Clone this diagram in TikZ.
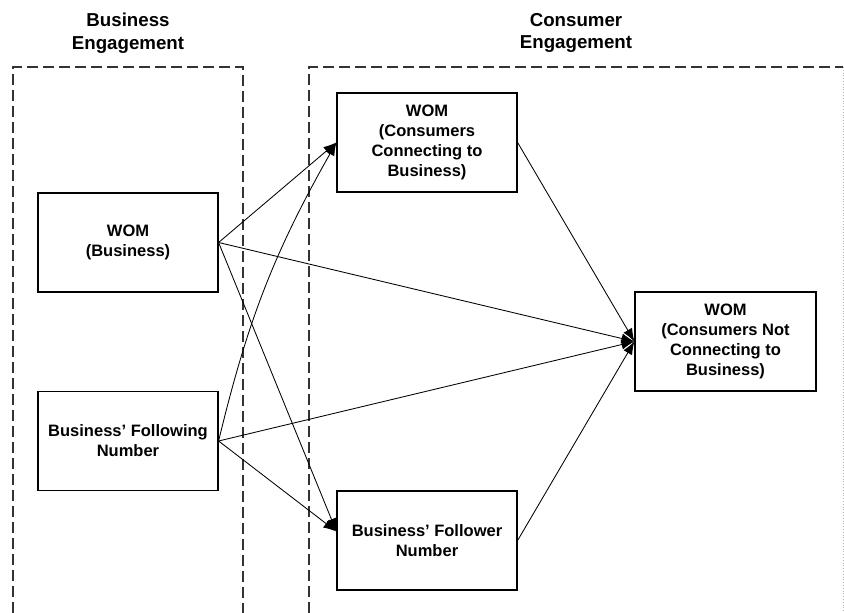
\documentclass[tikz,border=0pt]{standalone}
\usepackage{fontspec}
\setmainfont{Liberation Sans}
\usetikzlibrary{arrows.meta}
\begin{document}
\begin{tikzpicture}[x=1pt,y=1pt,
  box/.style={draw=black, line width=1.2pt, minimum width=180pt, minimum height=99pt,
    align=center, font=\fontsize{16.5}{20}\selectfont\bfseries, inner sep=0pt},
  ttl/.style={align=center, font=\fontsize{18.7}{22.5}\selectfont\bfseries, inner sep=0pt, anchor=north},
  zone/.style={draw=black!80, line width=1.3pt, dash pattern=on 11pt off 5pt},
  conn/.style={-{Latex[length=13pt,width=10pt]}, line width=0.85pt}
]
\useasboundingbox (0,0) rectangle (844,613);
% zones
\draw[zone] (13,0) -- (13,546) -- (243,546) -- (243,0);
\draw[zone] (309,0) -- (309,546) -- (843,546);
\draw[black!30, line width=0.8pt, dotted] (843,546) -- (843,0);
% titles
\node[ttl] (t1) at (128,600) {Business\\Engagement};
\node[ttl] (t2) at (576,600) {Consumer\\Engagement};
% boxes
\node[box] (wb) at (128,370.5) {WOM\\(Business)};
\node[box] (bf) at (128,172) {Business’ Following\\Number};
\node[box] (cc) at (427,470.5) {WOM\\(Consumers\\Connecting to\\Business)};
\node[box, minimum width=181pt] (cn) at (725.5,271.5) {WOM\\(Consumers Not\\Connecting to\\Business)};
\node[box] (fo) at (427,72.5) {Business’ Follower\\Number};
% connectors
\draw[conn] (wb.east) -- (cc.west);
\draw[conn] (wb.east) -- (cn.west);
\draw[conn] (wb.east) -- ([yshift=9pt]fo.west);
\draw[conn] (bf.east) to[bend left=8] (cc.west);
\draw[conn] (bf.east) -- (cn.west);
\draw[conn] (bf.east) -- ([yshift=9pt]fo.west);
\draw[conn] (cc.east) -- (cn.west);
\draw[conn] (fo.east) -- (cn.west);
\end{tikzpicture}
\end{document}
